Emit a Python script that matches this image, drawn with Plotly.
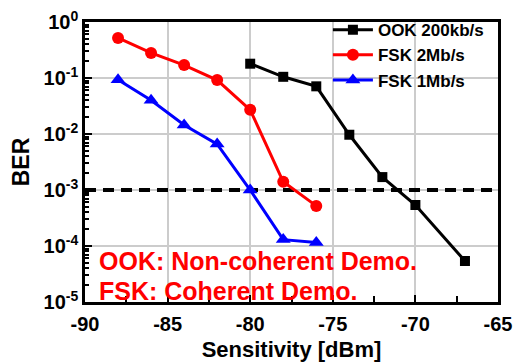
import plotly.graph_objects as go

# Measured bit-error rate versus input power
ook_x = [-80, -78, -76, -74, -72, -70, -67]
ook_ber = [0.18, 0.105, 0.071, 0.0097, 0.0017, 0.00054, 0.000054]

fsk2_x = [-88, -86, -84, -82, -80, -78, -76]
fsk2_ber = [0.52, 0.28, 0.17, 0.092, 0.027, 0.0014, 0.00052]

fsk1_x = [-88, -86, -84, -82, -80, -78, -76]
fsk1_ber = [0.093, 0.040, 0.0145, 0.0066, 0.001, 0.00013, 0.000115]

ber_limit = 1e-3
x_ticks = [-90, -85, -80, -75, -70, -65]
y_ticks = [1, 0.1, 0.01, 0.001, 0.0001, 0.00001]
y_labels = ["10<sup>0</sup>", "10<sup>-1</sup>", "10<sup>-2</sup>",
            "10<sup>-3</sup>", "10<sup>-4</sup>", "10<sup>-5</sup>"]

FONT = "Liberation Sans, Arial, sans-serif"

fig = go.Figure()

# Target BER reference line
fig.add_trace(go.Scatter(
    x=[-90, -65], y=[ber_limit, ber_limit], mode="lines",
    line=dict(color="black", width=4, dash="11px,7px"),
    showlegend=False, hoverinfo="skip"))

fig.add_trace(go.Scatter(
    x=ook_x, y=ook_ber, mode="lines+markers", name="OOK 200kb/s",
    line=dict(color="black", width=3),
    marker=dict(symbol="square", size=10, color="black")))

fig.add_trace(go.Scatter(
    x=fsk2_x, y=fsk2_ber, mode="lines+markers", name="FSK 2Mb/s",
    line=dict(color="#ff0000", width=3),
    marker=dict(symbol="circle", size=12, color="#ff0000")))

fig.add_trace(go.Scatter(
    x=fsk1_x, y=fsk1_ber, mode="lines+markers", name="FSK 1Mb/s",
    line=dict(color="#0000ff", width=3),
    marker=dict(symbol="triangle-up", size=13, color="#0000ff")))

axis_common = dict(
    showline=True, linecolor="black", linewidth=2.5, mirror=True,
    ticks="inside", tickcolor="black", tickwidth=2, ticklen=7,
    showgrid=True, gridcolor="#cccccc", gridwidth=1.5,
    zeroline=False, automargin=False,
    tickfont=dict(family=FONT, size=20, color="black", weight="bold"),
)

fig.update_layout(
    width=513, height=362,
    margin=dict(l=85, r=15, t=19, b=60),
    plot_bgcolor="white", paper_bgcolor="white",
    font=dict(family=FONT, color="black"),
    xaxis=dict(
        range=[-90, -65], tickvals=x_ticks,
        ticktext=[str(v) for v in x_ticks],
        ticklabelstandoff=2,
        minor=dict(ticks="inside", ticklen=6, tickwidth=2, tickcolor="black",
                   dtick=2.5, showgrid=False),
        title=dict(text="Sensitivity [dBm]", standoff=16,
                   font=dict(family=FONT, size=22, color="black", weight="bold")),
        **axis_common),
    yaxis=dict(
        type="log", range=[-5, 0], tickvals=y_ticks, ticktext=y_labels,
        minor=dict(ticks="inside", ticklen=4, tickwidth=1.5, tickcolor="black",
                   dtick="D1", showgrid=False),
        title=dict(text="BER", standoff=8,
                   font=dict(family=FONT, size=23, color="black", weight="bold")),
        **axis_common),
    legend=dict(
        x=0.978, y=1.035, xanchor="right", yanchor="top",
        bgcolor="rgba(0,0,0,0)", borderwidth=0,
        font=dict(family=FONT, size=17, color="black", weight="bold"),
        tracegroupgap=0, itemwidth=40),
    showlegend=True,
)

fig.add_annotation(
    x=0.03, y=0.148, xref="paper", yref="paper", xanchor="left", yanchor="middle",
    text="OOK: Non-coherent Demo.", showarrow=False,
    font=dict(family=FONT, size=25, color="#ff0000", weight="bold"))
fig.add_annotation(
    x=0.03, y=0.04, xref="paper", yref="paper", xanchor="left", yanchor="middle",
    text="FSK: Coherent Demo.", showarrow=False,
    font=dict(family=FONT, size=25, color="#ff0000", weight="bold"))

fig.write_html("out.html")
